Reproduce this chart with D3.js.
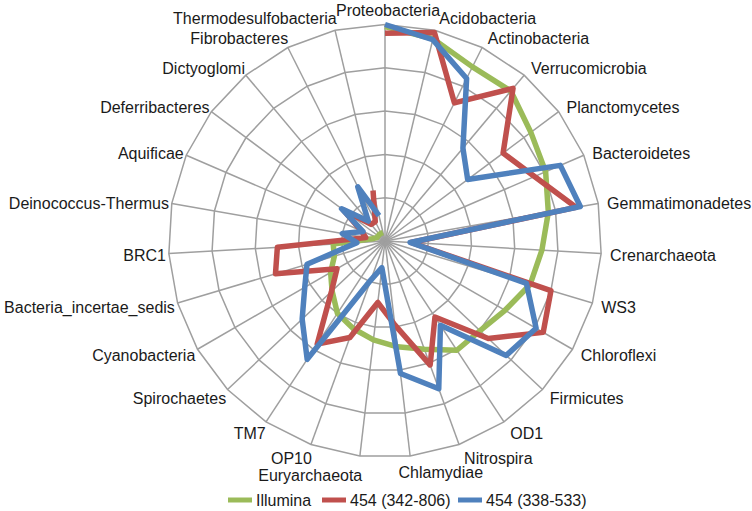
<!DOCTYPE html>
<html>
<head>
<meta charset="utf-8">
<script src="https://d3js.org/d3.v7.min.js"></script>
<style>
  body { margin: 0; background: #fff; }
  svg text { font-family: "Liberation Sans", Arial, sans-serif; font-size: 16px; fill: #1a1a1a; }
</style>
</head>
<body>
<script>
// phyla, clockwise from the top
var phyla = ["Proteobacteria", "Acidobacteria", "Actinobacteria", "Verrucomicrobia", "Planctomycetes",
  "Bacteroidetes", "Gemmatimonadetes", "Crenarchaeota", "WS3", "Chloroflexi", "Firmicutes", "OD1",
  "Nitrospira", "Chlamydiae", "Euryarchaeota", "OP10", "TM7", "Spirochaetes", "Cyanobacteria",
  "Bacteria_incertae_sedis", "BRC1", "Deinococcus-Thermus", "Aquificae", "Deferribacteres",
  "Dictyoglomi", "Fibrobacteres", "Thermodesulfobacteria"];

var illumina = [4.95, 4.8, 4.5, 4.52, 4.2, 4.04, 3.83, 3.63, 3.5, 3.2, 3.02, 3.02, 2.66, 2.46,
  2.3, 2.15, 2.0, 1.68, 1.45, 1.22, 1.2, 0.3, 0.2, 0.2, 0.2, 0.2, 0.2];
var s342 = [4.8, 4.95, 3.57, 4.6, 3.4, 3.76, 4.48, 0.6, 4.0, 4.22, 3.28, 2.1, 3.05, 1.95,
  1.43, 2.37, 2.85, 1.7, 1.28, 2.64, 2.49, 0.45, 0.6, 1.2, 0.5, 0.5, 1.2];
var s338 = [5.0, 4.78, 4.2, 2.8, 2.38, 4.41, 4.58, 0.58, 3.41, 4.03, 3.85, 2.33, 3.63, 3.08,
  0.62, 0.96, 3.27, 2.63, 2.14, 1.88, 0.65, 1.0, 0.55, 1.25, 0.6, 1.4, 0.6];

var seriesNames = ["Illumina", "454 (342-806)", "454 (338-533)"];
var seriesColors = ["#9bbb59", "#c0504d", "#4f81bd"];
var levels = [1, 2, 3, 4, 5];

var width = 752, height = 511;
var cx = 385, cy = 241, R = 216.5;

var svg = d3.select("body").append("svg")
    .attr("width", width)
    .attr("height", height);

var step = 2 * Math.PI / phyla.length;
var r = d3.scaleLinear().domain([0, 5]).range([0, R]);

var g = svg.append("g").attr("transform", "translate(" + cx + "," + cy + ")");

// grid rings (closed)
var ring = d3.lineRadial()
    .angle(function(d, i) { return i * step; })
    .radius(function(d) { return r(d); })
    .curve(d3.curveLinearClosed);

// data lines are left open, like the original
var trace = d3.lineRadial()
    .angle(function(d, i) { return i * step; })
    .radius(function(d) { return r(d); });

g.selectAll(".ring")
    .data(levels)
    .enter().append("path")
    .attr("class", "ring")
    .attr("d", function(l) { return ring(phyla.map(function() { return l; })); })
    .attr("fill", "none")
    .attr("stroke", "#9f9f9f")
    .attr("stroke-width", 1.5);

// spokes
g.selectAll(".spoke")
    .data(phyla)
    .enter().append("line")
    .attr("class", "spoke")
    .attr("x1", 0).attr("y1", 0)
    .attr("x2", function(d, i) { return r(5) * Math.sin(i * step); })
    .attr("y2", function(d, i) { return -r(5) * Math.cos(i * step); })
    .attr("stroke", "#9f9f9f")
    .attr("stroke-width", 1.5);

// series
var series = [illumina, s342, s338];
g.selectAll(".series")
    .data(series)
    .enter().append("path")
    .attr("class", "series")
    .attr("d", function(d) { return trace(d); })
    .attr("fill", "none")
    .attr("stroke", function(d, i) { return seriesColors[i]; })
    .attr("stroke-width", 5.5)
    .attr("stroke-linejoin", "round");

// category labels
var labels = g.selectAll(".lab")
    .data(phyla)
    .enter().append("text")
    .attr("class", "lab")
    .attr("dy", "0.35em")
    .text(function(d) { return d; });

labels.each(function(d, i) {
    var a = i * step, s = Math.sin(a), c = -Math.cos(a);
    var w = this.getComputedTextLength();
    var frac = s >= 0 ? 0.5 - s * 2.75 : 0.5 - s * 4.3;
    frac = Math.max(0, Math.min(1, frac));
    var dx = 3 + 6 * s;
    var dy = 1.5 + 9 * c + 4 * c * c * c + 3 * c * Math.pow(Math.abs(c), 29);
    if (c > 0.98 && s < 0) dy += 3;   // keep the bottom-left label clear of its neighbour
    d3.select(this)
        .attr("x", r(5) * s + dx - frac * w)
        .attr("y", r(5) * c + dy);
});

// legend
var legend = svg.append("g").attr("transform", "translate(0,500)");
var lx = [228, 322, 458];
seriesNames.forEach(function(n, i) {
    legend.append("line")
        .attr("x1", lx[i]).attr("x2", lx[i] + 24)
        .attr("y1", 0).attr("y2", 0)
        .attr("stroke", seriesColors[i])
        .attr("stroke-width", 5);
    legend.append("text")
        .attr("x", lx[i] + 28)
        .attr("dy", "0.35em")
        .text(n);
});
</script>
</body>
</html>
